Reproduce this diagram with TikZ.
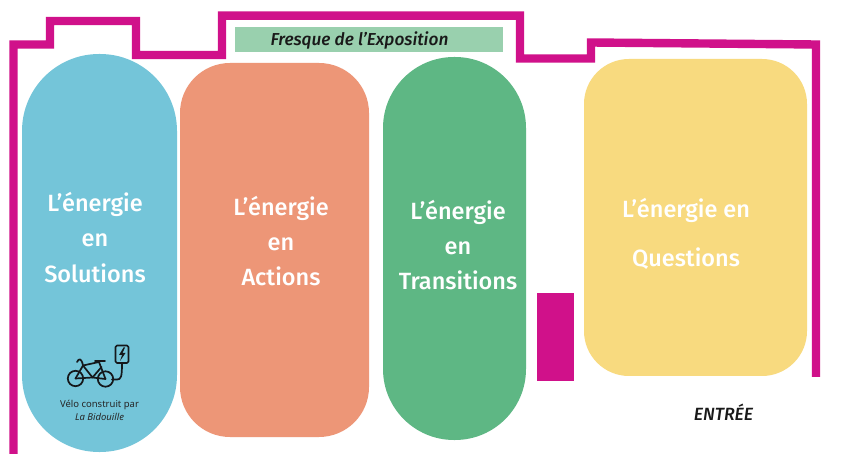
\documentclass[tikz,border=0pt]{standalone}
\usepackage{fontspec}
\setmainfont{Fira Sans}
\newfontfamily\smallfont{Noto Sans}
\newfontfamily\medfont{Fira Sans Medium}[ItalicFont={Fira Sans Medium Italic}]
\definecolor{wall}{HTML}{D0118A}
\definecolor{cblue}{HTML}{74C5D9}
\definecolor{corange}{HTML}{ED9677}
\definecolor{cgreen}{HTML}{5EB784}
\definecolor{cyellow}{HTML}{F8DA7F}
\definecolor{chead}{HTML}{99D0AE}
\definecolor{bike}{HTML}{15181B}
\tikzset{
  x=1pt,y=-1pt,
  wallline/.style={draw=wall,line width=8.4pt,line join=miter,line cap=butt},
  zonelabel/.style={text=white,font=\medfont\fontsize{23.5}{23.5}\selectfont,anchor=base,inner sep=0pt},
  bikeline/.style={draw=bike,line width=1.7pt,line cap=round,line join=round},
}
\begin{document}
\begin{tikzpicture}
\useasboundingbox (0,0) rectangle (841,454);
\fill[white] (0,0) rectangle (841,454);
% wall
\draw[wallline] (13.5,454) -- (13.5,44.5) -- (50,44.5) -- (50,21) -- (136,21) -- (136,55) -- (222,55) -- (222,15.7) -- (520,15.7) -- (520,58.5) -- (591,58.5) -- (591,42.5) -- (816,44.5) -- (816,377);
\fill[wall] (537,293) rectangle (574,381);
% header
\fill[chead] (235,27) rectangle (503,52);
\node[font=\medfont\fontsize{17.3}{17.3}\selectfont\itshape,text=black!90,inner sep=0pt,anchor=base] (head) at (359.5,46) {Fresque de l’Exposition};
% zones
\fill[cblue,rounded corners=77pt] (22,54) rectangle (177,452);
\fill[corange,rounded corners=50pt] (180,63) rectangle (369,437);
\fill[cgreen,rounded corners=71pt] (383,57) rectangle (526,440);
\fill[cyellow,rounded corners=45pt] (584,59) rectangle (807,376);
% labels
\node[zonelabel] (s1) at (95,212) {L’énergie};
\node[zonelabel] (s2) at (95,247) {en};
\node[zonelabel] (s3) at (95,283) {Solutions};
\node[zonelabel] (a1) at (281,216) {L’énergie};
\node[zonelabel] (a2) at (281,251) {en};
\node[zonelabel] (a3) at (281,286) {Actions};
\node[zonelabel] (t1) at (458,220) {L’énergie};
\node[zonelabel] (t2) at (458,255) {en};
\node[zonelabel] (t3) at (458,290) {Transitions};
\node[zonelabel] (q1) at (686,217.5) {L’énergie en};
\node[zonelabel] (q2) at (686,266.5) {Questions};
% bike icon
\draw[bikeline] (75.5,378.5) circle (7.7pt);
\draw[bikeline] (105.5,379) circle (7.7pt);
\draw[bikeline] (75.5,378.5) -- (83,365.5) -- (99,362) -- (105.5,379);
\draw[bikeline] (83,365.5) -- (92.5,377.5) -- (101.5,367);
\draw[bikeline] (75.5,378.5) -- (92.5,377.5) -- (105.5,379);
\draw[bikeline] (83,365.5) .. controls (81.5,358) and (79,358) .. (77,362);
\draw[bikeline] (95,361) -- (105,361);
\draw[bikeline] (112,379.5) -- (117,379.5) .. controls (121,379.5) and (122,377) .. (122,363.5);
\draw[bikeline,rounded corners=1.5pt] (115.5,345.5) rectangle (128.5,363);
\fill[bike] (123.5,347.5) -- (119,355) -- (122,355) -- (120,361) -- (125.5,353) -- (122.5,353) -- (125,347.5) -- cycle;
% caption
\node[font=\smallfont\fontsize{9.5}{9.5}\selectfont,text=black!85,inner sep=0pt,anchor=base] (c1) at (99.5,407.5) {Vélo construit par};
\node[font=\smallfont\fontsize{9.5}{9.5}\selectfont\itshape,text=black!85,inner sep=0pt,anchor=base] (c2) at (99.5,420) {La Bidouille};
\node[font=\medfont\fontsize{17.7}{17.7}\selectfont\itshape,text=black!90,inner sep=0pt,anchor=base] (entree) at (723.5,420) {ENTRÉE};
\end{tikzpicture}
\end{document}
